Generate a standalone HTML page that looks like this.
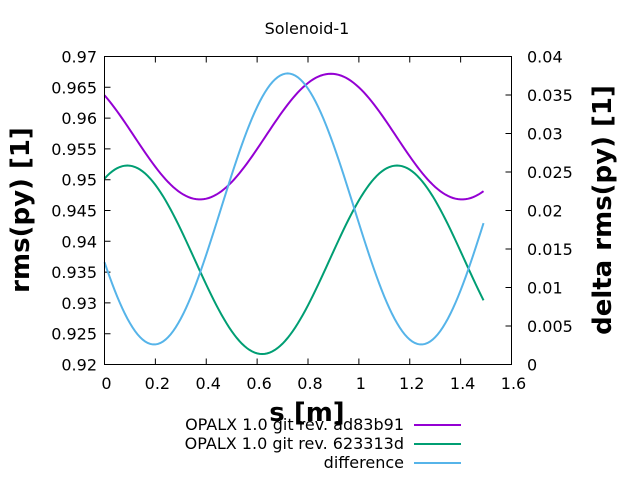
<!DOCTYPE html>
<html><head><style>
body{margin:0;background:#fff;}
svg{display:block;font-family:"DejaVu Sans","Liberation Sans",sans-serif;}
</style></head><body>
<svg id="s" width="640" height="480" xmlns="http://www.w3.org/2000/svg">
<rect width="640" height="480" fill="#fff"/>
<text x="307" y="34" font-size="16" text-anchor="middle">Solenoid-1</text>
<g id="ax" stroke="#000" stroke-width="1" fill="none"></g>
<g id="lab" font-size="16" fill="#000"></g>
<g id="curves" fill="none" stroke-width="2"></g>
<rect x="104.5" y="56.5" width="407" height="308" fill="none" stroke="#000"/>
<text x="307" y="421" font-size="26" font-weight="bold" text-anchor="middle">s [m]</text>
<text transform="translate(29,210) rotate(-90)" font-size="26" font-weight="bold" text-anchor="middle">rms(py) [1]</text>
<text transform="translate(611,210) rotate(-90)" font-size="26" font-weight="bold" text-anchor="middle">delta rms(py) [1]</text>
<g font-size="16" text-anchor="end">
<text x="404" y="430">OPALX 1.0 git rev. ad83b91</text>
<text x="404" y="449">OPALX 1.0 git rev. 623313d</text>
<text x="404" y="468">difference</text>
</g>
<line x1="414" y1="425" x2="461" y2="425" stroke="#9400d3" stroke-width="2"/>
<line x1="414" y1="444" x2="461" y2="444" stroke="#009e73" stroke-width="2"/>
<line x1="414" y1="463" x2="461" y2="463" stroke="#56b4e9" stroke-width="2"/>
</svg>
<script>
var L=104.5,R=511.5,T=56.5,B=364.5;
var ax=document.getElementById('ax'),lab=document.getElementById('lab'),cv=document.getElementById('curves');
var ns='http://www.w3.org/2000/svg';
function el(p,t,a,txt){var e=document.createElementNS(ns,t);for(var k in a)e.setAttribute(k,a[k]);if(txt!=null)e.textContent=txt;p.appendChild(e);return e;}
var d='';
for(var i=0;i<=8;i++){var x=L+(R-L)*i/8;d+='M'+x+' '+B+'v-6M'+x+' '+T+'v6';
el(lab,'text',{x:x+2,y:389,'text-anchor':'middle'},(i*0.2).toFixed(1).replace(/\.0$/,''));}
var ll=['0.92','0.925','0.93','0.935','0.94','0.945','0.95','0.955','0.96','0.965','0.97'];
for(var i=0;i<=10;i++){var y=B-(B-T)*i/10;d+='M'+L+' '+y+'h6';
el(lab,'text',{x:97,y:y+6,'text-anchor':'end'},ll[i]);}
var rl=['0','0.005','0.01','0.015','0.02','0.025','0.03','0.035','0.04'];
for(var i=0;i<=8;i++){var y=B-(B-T)*i/8;d+='M'+R+' '+y+'h-6';
el(lab,'text',{x:527,y:y+6,'text-anchor':'start'},rl[i]);}
el(ax,'path',{d:d});
function X(s){return L+(R-L)*s/1.6;}
function YL(v){return B-(B-T)*(v-0.92)/0.05;}
function YR(v){return B-(B-T)*v/0.04;}
function path(f,Y,c){var p='';for(var s=0;s<=1.49001;s+=0.01){p+=(p?'L':'M')+X(s).toFixed(2)+' '+Y(f(s)).toFixed(2);}el(cv,'path',{d:p,stroke:c});}
var P=2*Math.PI;
path(function(s){return 0.957+0.0102*Math.cos(P*(s-0.89)/1.03);},YL,'#9400d3');
path(function(s){return 0.937+0.0153*Math.cos(P*(s-0.09)/1.06);},YL,'#009e73');
path(function(s){return 0.0202+0.0176*Math.cos(P*(s-0.72)/1.05);},YR,'#56b4e9');
</script>
</body></html>
